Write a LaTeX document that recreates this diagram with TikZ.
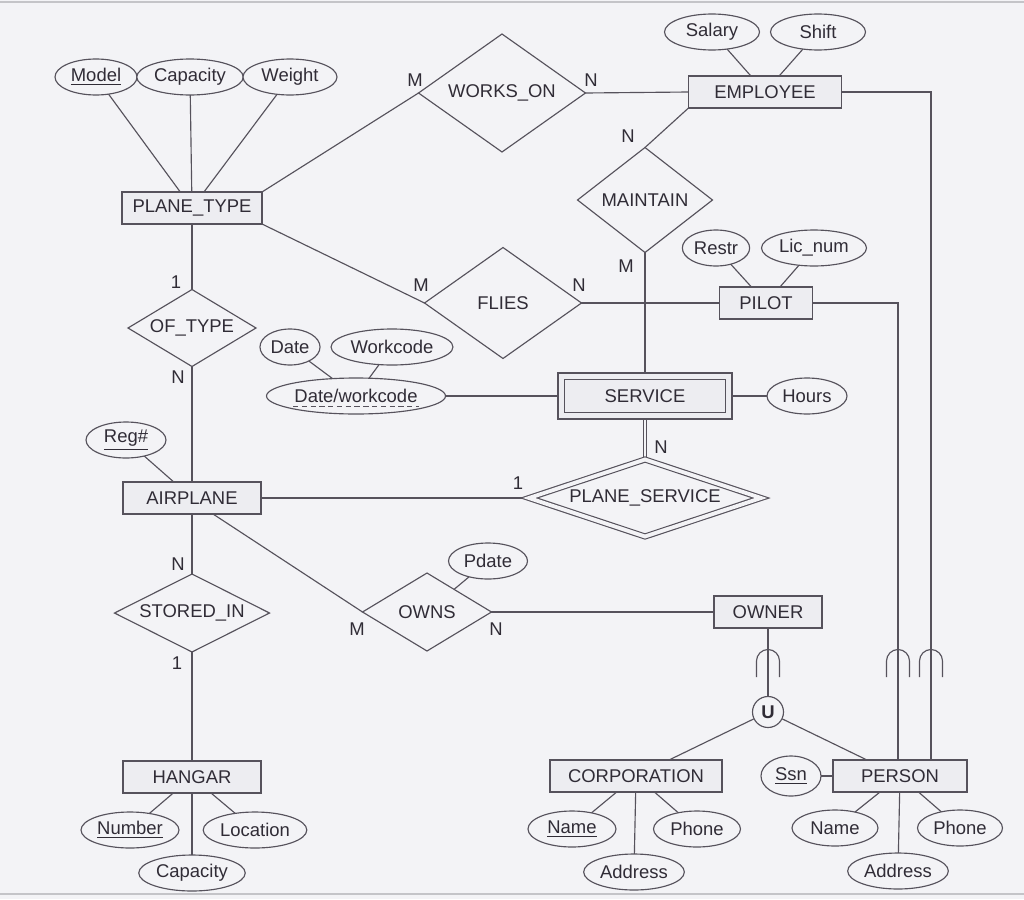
\documentclass[tikz,border=0pt]{standalone}
\definecolor{InkColor}{RGB}{48,44,54}
\definecolor{LineColor}{RGB}{86,82,92}
\definecolor{PaperColor}{RGB}{243,243,246}
\definecolor{BoxColor}{RGB}{237,237,241}
\definecolor{EdgeColor}{RGB}{196,196,200}
\usepackage{fontspec}
\setmainfont{Liberation Sans}
\usepackage{tikz}
\usetikzlibrary{shapes.geometric, positioning, backgrounds}

\begin{document}
\begin{tikzpicture}[x=0.02cm, y=-0.02cm,
    every node/.style={font=\fontsize{10.5}{12}\selectfont, text=InkColor},
    line/.style={draw=LineColor, line width=0.65pt},
    entity/.style={line, fill=BoxColor, rectangle, inner sep=0pt, outer sep=0pt, minimum height=0.64cm},
    weakentity/.style={entity, double=BoxColor, double distance=3pt, minimum height=0.79cm},
    relation/.style={line, fill=PaperColor, diamond, inner sep=0pt, outer sep=0pt},
    identrel/.style={relation, double=PaperColor, double distance=2.2pt},
    attr/.style={line, fill=PaperColor, ellipse, inner sep=1pt, outer sep=0pt, minimum height=0.72cm},
    card/.style={inner sep=0pt}]
  \useasboundingbox (0,0) rectangle (1024,899);

  \node[entity, minimum width=2.8cm] (ptype) at (192,208) {PLANE\_TYPE};
  \node[entity, minimum width=3.06cm] (emp) at (765,92) {EMPLOYEE};
  \node[entity, minimum width=1.86cm] (pilot) at (766,303) {PILOT};
  \node[weakentity, minimum width=3.35cm] (service) at (645,396) {SERVICE};
  \node[entity, minimum width=2.76cm] (airplane) at (192,498) {AIRPLANE};
  \node[entity, minimum width=2.16cm] (owner) at (768,612) {OWNER};
  \node[entity, minimum width=2.76cm] (hangar) at (192,777) {HANGAR};
  \node[entity, minimum width=3.44cm] (corp) at (636,776) {CORPORATION};
  \node[entity, minimum width=2.68cm] (person) at (900,776) {PERSON};

  \node[relation, aspect=1.42, minimum width=3.34cm, minimum height=2.36cm] (works) at (502,93) {WORKS\_ON};
  \node[relation, aspect=1.29, minimum width=2.7cm, minimum height=2.1cm] (maint) at (645,200) {MAINTAIN};
  \node[relation, aspect=1.41, minimum width=3.14cm, minimum height=2.22cm] (flies) at (503,303) {FLIES};
  \node[relation, aspect=1.66, minimum width=2.56cm, minimum height=1.54cm] (oftype) at (192,328) {OF\_TYPE};
  \node[identrel, aspect=3, minimum width=4.64cm, minimum height=1.54cm] (pservice) at (645,498) {PLANE\_SERVICE};
  \node[relation, aspect=2, minimum width=3.1cm, minimum height=1.56cm] (stored) at (192,613) {STORED\_IN};
  \node[relation, aspect=1.65, minimum width=2.58cm, minimum height=1.56cm] (owns) at (427,612) {OWNS};

  \node[attr, minimum width=1.64cm] (aModel) at (96,77) {\underline{Model}};
  \node[attr, minimum width=2cm] (aPCap) at (190,77) {Capacity};
  \node[attr, minimum width=1.88cm] (aWeight) at (290,77) {Weight};
  \node[attr, minimum width=1.9cm] (aSalary) at (712,32) {Salary};
  \node[attr, minimum width=1.9cm] (aShift) at (818,32) {Shift};
  \node[attr, minimum width=1.3cm] (aRestr) at (716,248) {Restr};
  \node[attr, minimum width=2.1cm] (aLic) at (814,248) {Lic\_num};
  \node[attr, minimum width=1.2cm] (aDate) at (290,347) {Date};
  \node[attr, minimum width=2.4cm] (aWork) at (392,347) {Workcode};
  \node[attr, minimum width=3.48cm] (aDW) at (356,396) {Date/workcode};
  \node[attr, minimum width=1.6cm] (aHours) at (807,396) {Hours};
  \node[attr, minimum width=1.6cm] (aReg) at (126,440) {\underline{Reg\#}};
  \node[attr, minimum width=1.58cm] (aPdate) at (488,561) {Pdate};
  \node[attr, minimum width=1.96cm] (aNumber) at (130,830) {\underline{Number}};
  \node[attr, minimum width=2cm] (aLoc) at (255,830) {Location};
  \node[attr, minimum width=2cm] (aHCap) at (192,873) {Capacity};
  \node[attr, minimum width=1.76cm] (aCName) at (572,829) {\underline{Name}};
  \node[attr, minimum width=1.74cm] (aCPhone) at (697,829) {Phone};
  \node[attr, minimum width=2cm] (aCAddr) at (634,872) {Address};
  \node[attr, minimum width=1.2cm, minimum height=0.8cm] (aSsn) at (791,776) {\underline{Ssn}};
  \node[attr, minimum width=1.72cm] (aPName) at (835,828) {Name};
  \node[attr, minimum width=1.7cm] (aPPhone) at (960,828) {Phone};
  \node[attr, minimum width=2cm] (aPAddr) at (898,871) {Address};
  \draw[LineColor, line width=0.5pt, densely dashed] ([shift={(-63,10)}]aDW.center) -- ([shift={(63,10)}]aDW.center);

  \node[line, fill=PaperColor, circle, inner sep=0pt, minimum size=0.62cm, font=\fontsize{10.5}{12}\selectfont\bfseries] (uni) at (768,712) {U};

  \node[card] (kWorksM) at (415,80) {M};
  \node[card] (kWorksN) at (591,80) {N};
  \node[card] (kMaintN) at (628,136) {N};
  \node[card] (kMaintM) at (626,266) {M};
  \node[card] (kFliesM) at (421,285) {M};
  \node[card] (kFliesN) at (579,285) {N};
  \node[card] (kTypeOne) at (176,282) {1};
  \node[card] (kTypeN) at (178,377) {N};
  \node[card] (kServOne) at (518,483) {1};
  \node[card] (kServN) at (661,447) {N};
  \node[card] (kStoredN) at (178,564) {N};
  \node[card] (kStoredOne) at (177,663) {1};
  \node[card] (kOwnsM) at (357,629) {M};
  \node[card] (kOwnsN) at (496,629) {N};

  \foreach \sx in {768,898,931}
    \draw[line] (\sx-11.5,677) -- (\sx-11.5,661) arc[start angle=180, end angle=360, radius=11.5] -- (\sx+11.5,677);

  \begin{pgfonlayer}{background}
    \fill[PaperColor] (0,0) rectangle (1024,899);
    \draw[EdgeColor, line width=0.8pt] (0,2) -- (1024,2);
    \draw[EdgeColor, line width=1pt] (0,894) -- (1024,894);
    \draw[line] (aModel) -- (ptype);
    \draw[line] (aPCap) -- (ptype);
    \draw[line] (aWeight) -- (ptype);
    \draw[line] (aSalary) -- (emp);
    \draw[line] (aShift) -- (emp);
    \draw[line] (aRestr) -- (pilot);
    \draw[line] (aLic) -- (pilot);
    \draw[line] (aDate) -- (aDW);
    \draw[line] (aWork) -- (aDW);
    \draw[line] (aDW) -- (service);
    \draw[line] (service) -- (aHours);
    \draw[line] (aReg) -- (airplane);
    \draw[line] (aPdate) -- (owns);
    \draw[line] (aNumber) -- (hangar);
    \draw[line] (aLoc) -- (hangar);
    \draw[line] (aHCap) -- (hangar);
    \draw[line] (aCName) -- (corp);
    \draw[line] (aCPhone) -- (corp);
    \draw[line] (aCAddr) -- (corp);
    \draw[line] (aSsn) -- (person);
    \draw[line] (aPName) -- (person);
    \draw[line] (aPPhone) -- (person);
    \draw[line] (aPAddr) -- (person);
    \draw[line] (ptype.north east) -- (works.west);
    \draw[line] (works.east) -- (emp.west);
    \draw[line] (emp.south west) -- (maint.north);
    \draw[line] (maint.south) -- (service.north);
    \draw[line] (ptype.south east) -- (flies.west);
    \draw[line] (flies.east) -- (pilot.west);
    \draw[line] (ptype.south) -- (oftype.north);
    \draw[line] (oftype.south) -- (airplane.north);
    \draw[line, double=PaperColor, double distance=1.4pt] (service.south) -- (pservice.north);
    \draw[line] (airplane.east) -- (pservice.west);
    \draw[line] (airplane.south) -- (stored.north);
    \draw[line] (stored.south) -- (hangar.north);
    \draw[line] ([shift={(21,0)}]airplane.south) -- (owns.west);
    \draw[line] (owns.east) -- (owner.west);
    \draw[line] (owner.south) -- (uni.north);
    \draw[line] (uni) -- (corp);
    \draw[line] (uni) -- (person);
    \draw[line] (emp.east) -| ([shift={(31,0)}]person.north);
    \draw[line] (pilot.east) -| ([shift={(-2,0)}]person.north);
  \end{pgfonlayer}
\end{tikzpicture}
\end{document}
